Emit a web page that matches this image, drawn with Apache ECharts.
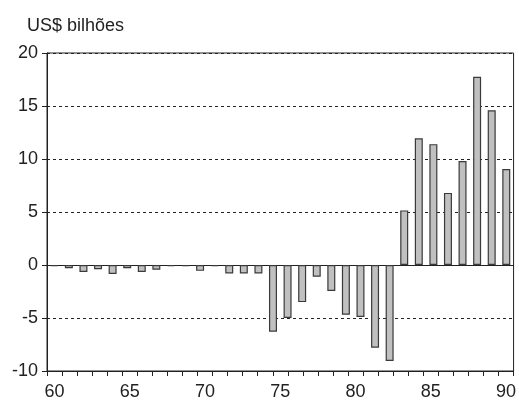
<!DOCTYPE html>
<html>
<head>
<meta charset="utf-8">
<script src="https://cdn.jsdelivr.net/npm/echarts@6/dist/echarts.min.js"></script>
<style>html,body{margin:0;padding:0;background:#fff}#c{width:519px;height:401px}</style>
</head>
<body>
<div id="c"></div>
<script>
// Axis tick labels (visible axis): 60..90
const axisYears = ['60','61','62','63','64','65','66','67','68','69','70','71','72','73','74','75','76','77','78','79','80','81','82','83','84','85','86','87','88','89','90'];
// Bar categories (as drawn in the reference, 32 bars)
const barYears = ['59','60','61','62','63','64','65','66','67','68','69','70','71','72','73','74','75','76','77','78','79','80','81','82','83','84','85','86','87','88','89','90'];
// Values, US$ bilhões
const values = [-0.1,-0.3,-0.65,-0.4,-0.85,-0.3,-0.65,-0.45,-0.1,-0.1,-0.55,-0.1,-0.8,-0.8,-0.8,-6.3,-5.0,-3.5,-1.1,-2.45,-4.7,-4.9,-7.8,-9.05,5.15,11.95,11.4,6.8,9.8,17.75,14.6,9.05];
const yTicks = {min:-10, max:20, interval:5};

const ink = '#222';
const font = 'Liberation Sans, Arial, sans-serif';
const chart = echarts.init(document.getElementById('c'), null, {renderer:'canvas'});
chart.setOption({
  animation:false,
  backgroundColor:'#fff',
  title:{text:'US$ bilhões', left:22, top:12, textStyle:{fontFamily:font, fontSize:18, fontWeight:'normal', color:ink}},
  grid:{left:47, right:2, top:53, bottom:28, show:true, borderColor:ink, borderWidth:1, backgroundColor:'transparent'},
  xAxis:[{
    type:'category', data:axisYears, boundaryGap:true,
    axisLine:{onZero:false, lineStyle:{color:ink, width:1}},
    axisTick:{show:true, interval:0, length:5, lineStyle:{color:ink}},
    axisLabel:{interval:4, margin:12, fontFamily:font, fontSize:18, color:ink},
    splitLine:{show:false}
  },{
    type:'category', data:barYears, boundaryGap:true, show:true,
    axisLine:{show:true, onZero:true, lineStyle:{color:ink, width:1}},
    axisTick:{show:false}, axisLabel:{show:false}, splitLine:{show:false}
  }],
  yAxis:{
    type:'value', min:yTicks.min, max:yTicks.max, interval:yTicks.interval,
    axisLine:{show:true, lineStyle:{color:ink, width:1}},
    axisTick:{show:true, length:5, lineStyle:{color:ink}},
    axisLabel:{margin:9, fontFamily:font, fontSize:18, color:ink},
    splitLine:{show:true, lineStyle:{color:ink, width:1, type:[3,3]}}
  },
  series:[{
    type:'bar', xAxisIndex:1, data:values, barWidth:8,
    itemStyle:{color:'#c0c0c0', borderColor:'#3a3a3a', borderWidth:1.2}
  }]
});
</script>
</body>
</html>
